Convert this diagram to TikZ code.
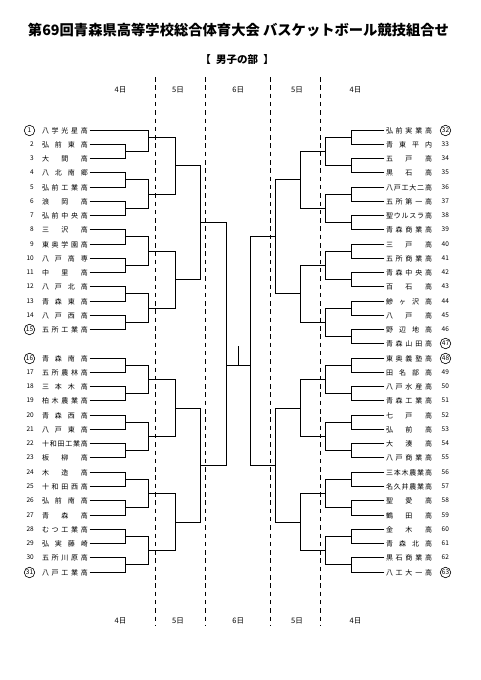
\documentclass[tikz,border=0pt]{standalone}
\usepackage{fontspec}
\setmainfont{Noto Sans CJK JP}
\usetikzlibrary{calc}
\def\sprA#1{\ifx#1\relax\else#1\expandafter\sprB\fi}
\def\sprB#1{\ifx#1\relax\else\hfill#1\expandafter\sprB\fi}
\newcommand\spr[1]{\makebox[46pt][s]{\expandafter\sprA#1\relax}}
\tikzset{
  br/.style={line width=1.3pt},
  dl/.style={line width=1.3pt, dash pattern=on 4.5pt off 3.8pt},
  nm/.style={inner xsep=1.5pt, inner ysep=0pt, font=\fontsize{7}{8}\selectfont},
  num/.style={inner sep=0pt, font=\fontsize{6.5}{7}\selectfont},
  cnum/.style={circle, draw, line width=0.6pt, inner sep=0pt, minimum size=10.5pt, font=\fontsize{6.5}{7}\selectfont},
  day/.style={font=\fontsize{7.5}{8}\selectfont},
  declare function={sy(\k)=floor(130+14.26*\k)+0.5;}
}
\begin{document}
\begin{tikzpicture}[x=1pt,y=-1pt]
\fill[white] (0,0) rectangle (481,680);
\useasboundingbox (0,0) rectangle (481,680);
\node[font=\bfseries\fontsize{14.3}{16}\selectfont] (title) at (238.5,30) {第69回青森県高等学校総合体育大会 バスケットボール競技組合せ};
\node[font=\bfseries\fontsize{10.5}{12}\selectfont] (sub) at (237,60) {【\hspace{0.5em}男子の部\hspace{0.5em}】};
% day columns
\foreach \x/\d/\n in {120.5/4日/a,178/5日/b,238.3/6日/c,297/5日/d,355.5/4日/e}{
  \node[day] (dt\n) at (\x,90) {\d};
  \node[day] (db\n) at (\x,621) {\d};
}
\foreach \x in {155.5,205.5,270.5,320.5}{
  \draw[dl] (\x,77) -- (\x,625);
}
% left entries
\foreach \i/\s/\t/\c in {1/0/八学光星高/1,2/1/弘前東高/0,3/2/大間高/0,4/3/八北南郷/0,5/4/弘前工業高/0,6/5/浪岡高/0,7/6/弘前中央高/0,8/7/三沢高/0,9/8/東奥学園高/0,10/9/八戸高専/0,11/10/中里高/0,12/11/八戸北高/0,13/12/青森東高/0,14/13/八戸西高/0,15/14/五所工業高/1,16/16/青森南高/1,17/17/五所農林高/0,18/18/三本木高/0,19/19/柏木農業高/0,20/20/青森西高/0,21/21/八戸東高/0,22/22/十和田工業高/0,23/23/板柳高/0,24/24/木造高/0,25/25/十和田西高/0,26/26/弘前南高/0,27/27/青森高/0,28/28/むつ工業高/0,29/29/弘実藤崎/0,30/30/五所川原高/0,31/31/八戸工業高/1}{
  \node[nm] (L\i) at (65,{sy(\s)}) {\spr{\t}};
  \ifnum\c=1\relax
    \node[cnum] (nL\i) at (29.5,{sy(\s)}) {\i};
  \else
    \node[num,anchor=east] (nL\i) at (34,{sy(\s)}) {\i};
  \fi
}
% right entries
\foreach \i/\s/\t/\c in {32/0/弘前実業高/1,33/1/青東平内/0,34/2/五戸高/0,35/3/黒石高/0,36/4/八戸工大二高/0,37/5/五所第一高/0,38/6/聖ウルスラ高/0,39/7/青森商業高/0,40/8/三戸高/0,41/9/五所商業高/0,42/10/青森中央高/0,43/11/百石高/0,44/12/鰺ヶ沢高/0,45/13/八戸高/0,46/14/野辺地高/0,47/15/青森山田高/1,48/16/東奥義塾高/1,49/17/田名部高/0,50/18/八戸水産高/0,51/19/青森工業高/0,52/20/七戸高/0,53/21/弘前高/0,54/22/大湊高/0,55/23/八戸商業高/0,56/24/三本木農業高/0,57/25/名久井農業高/0,58/26/聖愛高/0,59/27/鶴田高/0,60/28/金木高/0,61/29/青森北高/0,62/30/黒石商業高/0,63/31/八工大一高/1}{
  \node[nm] (R\i) at (409,{sy(\s)}) {\spr{\t}};
  \ifnum\c=1\relax
    \node[cnum] (nR\i) at (445.5,{sy(\s)}) {\i};
  \else
    \node[num,anchor=west] (nR\i) at (441.5,{sy(\s)}) {\i};
  \fi
}
% left bracket, round 1
\foreach \a/\b/\s in {2/3/1.5,4/5/3.5,6/7/5.5,8/9/7.5,10/11/9.5,12/13/11.5,14/15/13.5,16/17/16.5,18/19/18.5,20/21/20.5,22/23/22.5,24/25/24.5,26/27/26.5,28/29/28.5,30/31/30.5}{
  \coordinate (p\a) at (125.5,{sy(\s)});
  \draw[br] (L\a.east) -| (p\a);
  \draw[br] (L\b.east) -| (p\a);
}
% left round 2
\foreach \n/\a/\b/\s in {q1/L1.east/p2/0.5,q4/p4/p6/4.5,q8/p8/p10/8.5,q12/p12/p14/12.5,q16/p16/p18/17.5,q20/p20/p22/21.5,q24/p24/p26/25.5,q28/p28/p30/29.5}{
  \coordinate (\n) at (148.5,{sy(\s)});
  \draw[br] (\a) -| (\n);
  \draw[br] (\b) -| (\n);
}
% left round 3
\foreach \n/\a/\b/\s in {r1/q1/q4/2.5,r8/q8/q12/10.5,r16/q16/q20/19.5,r24/q24/q28/27.5}{
  \coordinate (\n) at (175.5,{sy(\s)});
  \draw[br] (\a) -| (\n);
  \draw[br] (\b) -| (\n);
}
% left round 4
\foreach \n/\a/\b/\s in {s1/r1/r8/6.5,s16/r16/r24/23.5}{
  \coordinate (\n) at (200.5,{sy(\s)});
  \draw[br] (\a) -| (\n);
  \draw[br] (\b) -| (\n);
}
% right bracket, round 1
\foreach \a [evaluate=\a as \b using int(\a+1), evaluate=\a as \s using \a-31.5] in {32,34,...,62}{
  \coordinate (P\a) at (351.5,{sy(\s)});
  \draw[br] (R\a.west) -| (P\a);
  \draw[br] (R\b.west) -| (P\a);
}
% right round 2
\foreach \a [evaluate=\a as \b using int(\a+2), evaluate=\a as \s using \a-30.5] in {32,36,...,60}{
  \coordinate (Q\a) at (325.5,{sy(\s)});
  \draw[br] (P\a) -| (Q\a);
  \draw[br] (P\b) -| (Q\a);
}
% right round 3
\foreach \n/\a/\b/\s in {S32/Q32/Q36/3.5,S40/Q40/Q44/11.5,S48/Q48/Q52/19.5,S56/Q56/Q60/27.5}{
  \coordinate (\n) at (300.5,{sy(\s)});
  \draw[br] (\a) -| (\n);
  \draw[br] (\b) -| (\n);
}
% right round 4
\foreach \n/\a/\b/\s in {T32/S32/S40/7.5,T48/S48/S56/23.5}{
  \coordinate (\n) at (275.5,{sy(\s)});
  \draw[br] (\a) -| (\n);
  \draw[br] (\b) -| (\n);
}
% final
\coordinate (fl) at (226.5,{sy(16.5)});
\coordinate (fr) at (250.5,{sy(16.5)});
\draw[br] (s1) -| (fl);
\draw[br] (s16) -| (fl);
\draw[br] (T32) -| (fr);
\draw[br] (T48) -| (fr);
\draw[br] (fl) -- (fr);
\coordinate (fm) at ($(fl)!0.5!(fr)$);
\coordinate (champ) at ($(fm)+(0,-20)$);
\draw[br] (fm) -- (champ);
\end{tikzpicture}
\end{document}
